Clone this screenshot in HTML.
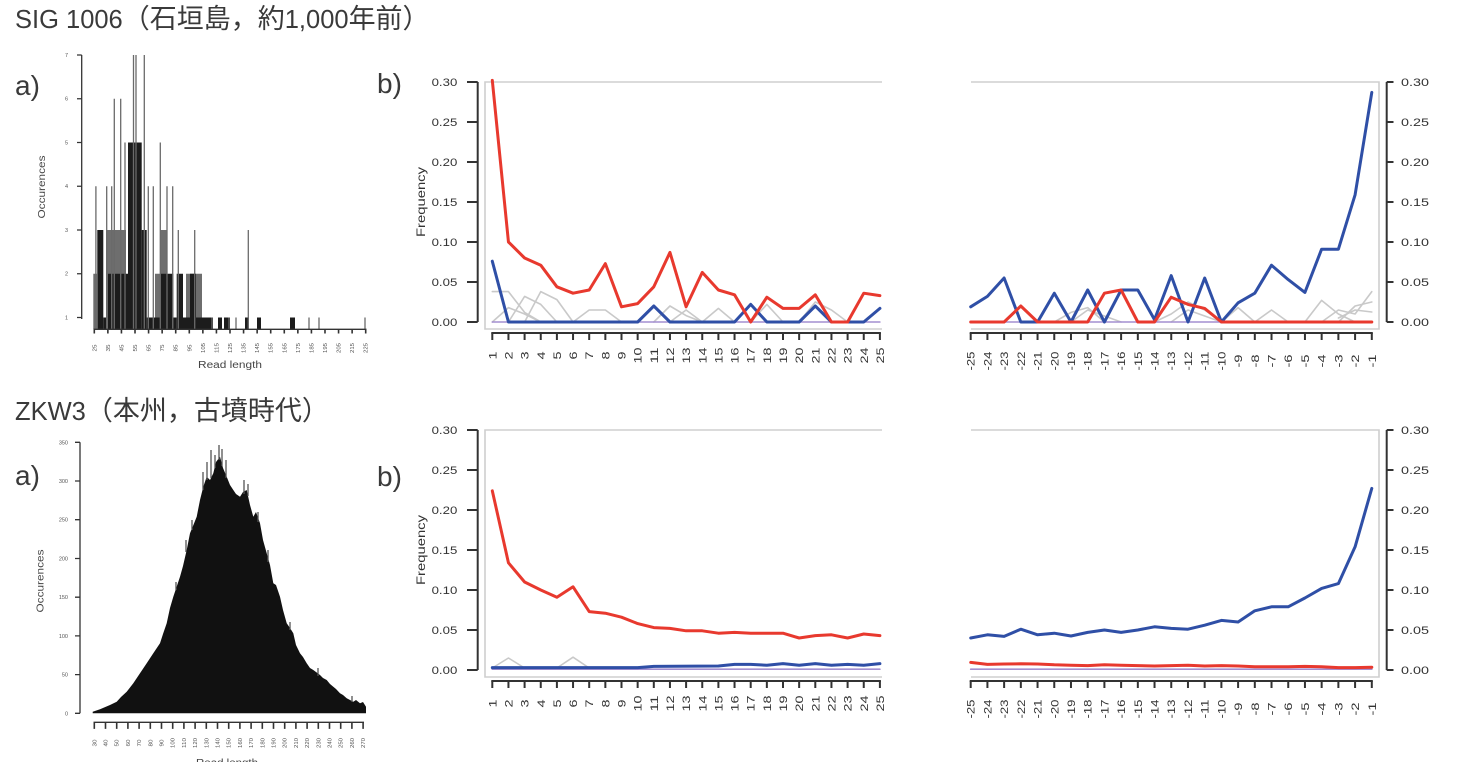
<!DOCTYPE html>
<html><head><meta charset="utf-8"><style>html,body{margin:0;padding:0;background:#fff;}svg{display:block;}</style></head>
<body>
<svg width="1458" height="762" viewBox="0 0 1458 762" xmlns="http://www.w3.org/2000/svg" font-family="'Liberation Sans','Noto Sans CJK JP',sans-serif">
<rect width="1458" height="762" fill="#fff"/>

<!-- Titles -->
<text x="15" y="28" font-size="25.5" fill="#3a3a3a">SIG 1006<tspan font-size="27">（石垣島，約</tspan>1,000<tspan font-size="27">年前）</tspan></text>
<text x="15" y="420" font-size="25.5" fill="#3a3a3a">ZKW3<tspan font-size="27">（本州，古墳時代）</tspan></text>
<text x="15" y="95" font-size="28" fill="#3a3a3a">a)</text>
<text x="15" y="485" font-size="28" fill="#3a3a3a">a)</text>
<text x="377" y="93" font-size="28" fill="#3a3a3a">b)</text>
<text x="377" y="486" font-size="28" fill="#3a3a3a">b)</text>

<!-- ============ TOP HISTOGRAM ============ -->
<g fill="#6e6e6e">
<rect x="93.3" y="273.75" width="3.7" height="55.5"/>
<rect x="106" y="230" width="20" height="99.3"/>
<rect x="155" y="273.75" width="5" height="55.5"/>
<rect x="160" y="230" width="7" height="99.3"/>
<rect x="186" y="273.75" width="16" height="55.5"/>
</g>
<g fill="#1c1c1c">
<rect x="97.3" y="230" width="6" height="99.3"/>
<rect x="103.3" y="317.5" width="3.4" height="11.8"/>
<rect x="108" y="273.75" width="20" height="55.5"/>
<rect x="128" y="142.5" width="13.7" height="186.8"/>
<rect x="141.7" y="230" width="5" height="99.3"/>
<rect x="146.7" y="317.5" width="8.3" height="11.8"/>
<rect x="155" y="317.5" width="5" height="11.8"/>
<rect x="160" y="273.75" width="7" height="55.5"/>
<rect x="166.7" y="273.75" width="6.6" height="55.5"/>
<rect x="173.3" y="317.5" width="3.4" height="11.8"/>
<rect x="176.7" y="273.75" width="6.3" height="55.5"/>
<rect x="183" y="317.5" width="20" height="11.8"/>
<rect x="190" y="273.75" width="6" height="55.5"/>
<rect x="203" y="317.5" width="10" height="11.8"/>
<rect x="218" y="317.5" width="4" height="11.8"/>
<rect x="224" y="317.5" width="6" height="11.8"/>
<rect x="245" y="317.5" width="4" height="11.8"/>
<rect x="257" y="317.5" width="4" height="11.8"/>
<rect x="290" y="317.5" width="5" height="11.8"/>
</g>
<g stroke="#6a6a6a" stroke-width="1.3">
<line x1="95.9" y1="329" x2="95.9" y2="186.25"/>
<line x1="106.7" y1="329" x2="106.7" y2="186.25"/>
<line x1="111.7" y1="329" x2="111.7" y2="186.25"/>
<line x1="114.3" y1="329" x2="114.3" y2="98.75"/>
<line x1="120.7" y1="329" x2="120.7" y2="98.75"/>
<line x1="125" y1="329" x2="125" y2="142.5"/>
<line x1="133.5" y1="329" x2="133.5" y2="55"/>
<line x1="136" y1="329" x2="136" y2="55"/>
<line x1="144.3" y1="329" x2="144.3" y2="55"/>
<line x1="148.3" y1="329" x2="148.3" y2="186.25"/>
<line x1="153.3" y1="329" x2="153.3" y2="186.25"/>
<line x1="160.3" y1="329" x2="160.3" y2="142.5"/>
<line x1="167" y1="329" x2="167" y2="186.25"/>
<line x1="172.7" y1="329" x2="172.7" y2="186.25"/>
<line x1="178.3" y1="329" x2="178.3" y2="230"/>
<line x1="194.7" y1="329" x2="194.7" y2="230"/>
<line x1="212" y1="329" x2="212" y2="317.5"/>
<line x1="229" y1="329" x2="229" y2="317.5"/>
<line x1="236" y1="329" x2="236" y2="317.5"/>
<line x1="248.3" y1="329" x2="248.3" y2="230"/>
<line x1="309" y1="329" x2="309" y2="317.5"/>
<line x1="319" y1="329" x2="319" y2="317.5"/>
<line x1="365" y1="329" x2="365" y2="317.5"/>
</g>
<!-- top hist axes -->
<g stroke="#333" stroke-width="1.3" fill="none">
<line x1="81.7" y1="55" x2="81.7" y2="319"/>
<path d="M77 55H81.7M77 98.75H81.7M77 142.5H81.7M77 186.25H81.7M77 230H81.7M77 273.75H81.7M77 317.5H81.7"/>
<line x1="93.5" y1="329.3" x2="366.5" y2="329.3"/>
</g>
<line x1="93.5" y1="331.4" x2="366.5" y2="331.4" stroke="#333" stroke-width="4.2" stroke-dasharray="1.6 11.97"/>
<g font-size="5.5" fill="#555" text-anchor="end">
<text x="68" y="57">7</text><text x="68" y="100.7">6</text><text x="68" y="144.5">5</text><text x="68" y="188.2">4</text><text x="68" y="232">3</text><text x="68" y="275.7">2</text><text x="68" y="319.5">1</text>
</g>
<g font-size="5.5" fill="#555" text-anchor="middle">
<text transform="translate(94.3,348) rotate(-90)" dy="2" textLength="7" lengthAdjust="spacingAndGlyphs">25</text>
<text transform="translate(107.9,348) rotate(-90)" dy="2" textLength="7" lengthAdjust="spacingAndGlyphs">35</text>
<text transform="translate(121.4,348) rotate(-90)" dy="2" textLength="7" lengthAdjust="spacingAndGlyphs">45</text>
<text transform="translate(135,348) rotate(-90)" dy="2" textLength="7" lengthAdjust="spacingAndGlyphs">55</text>
<text transform="translate(148.6,348) rotate(-90)" dy="2" textLength="7" lengthAdjust="spacingAndGlyphs">65</text>
<text transform="translate(162.2,348) rotate(-90)" dy="2" textLength="7" lengthAdjust="spacingAndGlyphs">75</text>
<text transform="translate(175.7,348) rotate(-90)" dy="2" textLength="7" lengthAdjust="spacingAndGlyphs">85</text>
<text transform="translate(189.3,348) rotate(-90)" dy="2" textLength="7" lengthAdjust="spacingAndGlyphs">95</text>
<text transform="translate(202.9,348) rotate(-90)" dy="2" textLength="10" lengthAdjust="spacingAndGlyphs">105</text>
<text transform="translate(216.4,348) rotate(-90)" dy="2" textLength="10" lengthAdjust="spacingAndGlyphs">115</text>
<text transform="translate(230,348) rotate(-90)" dy="2" textLength="10" lengthAdjust="spacingAndGlyphs">125</text>
<text transform="translate(243.6,348) rotate(-90)" dy="2" textLength="10" lengthAdjust="spacingAndGlyphs">135</text>
<text transform="translate(257.1,348) rotate(-90)" dy="2" textLength="10" lengthAdjust="spacingAndGlyphs">145</text>
<text transform="translate(270.7,348) rotate(-90)" dy="2" textLength="10" lengthAdjust="spacingAndGlyphs">155</text>
<text transform="translate(284.3,348) rotate(-90)" dy="2" textLength="10" lengthAdjust="spacingAndGlyphs">165</text>
<text transform="translate(297.9,348) rotate(-90)" dy="2" textLength="10" lengthAdjust="spacingAndGlyphs">175</text>
<text transform="translate(311.4,348) rotate(-90)" dy="2" textLength="10" lengthAdjust="spacingAndGlyphs">185</text>
<text transform="translate(325,348) rotate(-90)" dy="2" textLength="10" lengthAdjust="spacingAndGlyphs">195</text>
<text transform="translate(338.6,348) rotate(-90)" dy="2" textLength="10" lengthAdjust="spacingAndGlyphs">205</text>
<text transform="translate(352.1,348) rotate(-90)" dy="2" textLength="10" lengthAdjust="spacingAndGlyphs">215</text>
<text transform="translate(365.7,348) rotate(-90)" dy="2" textLength="10" lengthAdjust="spacingAndGlyphs">225</text>
</g>
<text transform="translate(41.7,187) rotate(-90)" dy="3.5" font-size="10" fill="#444" text-anchor="middle" textLength="63" lengthAdjust="spacingAndGlyphs">Occurences</text>
<text x="230" y="368" font-size="10" fill="#444" text-anchor="middle" textLength="64" lengthAdjust="spacingAndGlyphs">Read length</text>

<!-- ============ BOTTOM HISTOGRAM ============ -->
<polygon fill="#111" points="92.7,713.3 92.7,711.7 100,709.3 110,705 116.7,701.7 121,697 126.7,691.7 133.3,683.3 140,673.3 146.7,663.3 153.3,653.3 160,643.3 163,634 166.7,623.3 170,608 173.3,596.7 180,576.7 183,566 186.7,550 190,533.3 193,526 196.7,516.7 200,500 203.3,486.7 206.7,476.7 210,480 213.3,473.3 216,462 220,456.7 223,468 226.7,476.7 230,485 233.3,490 236,494 240,496.7 243,492 246.7,490 250,505 253.3,516.7 256,512 260,523.3 263,540 266.7,553.3 270,565 273.3,583.3 276,585 280,596.7 283,610 286.7,623.3 290,628 293.3,633.3 296,645 300,653.3 303,657 306.7,663.3 310,668 313.3,670 316,672 320,675 323,678 326.7,680 330,684 333.3,686.7 336,689 340,693.3 343,695 346.7,698.3 350,700 353.3,701.7 356,700 360,703.3 363,702 366,706.7 366,713.3"/>
<g stroke="#555" stroke-width="1.3">
<line x1="203" y1="490" x2="203" y2="472"/>
<line x1="207" y1="480" x2="207" y2="462"/>
<line x1="211" y1="478" x2="211" y2="450"/>
<line x1="215" y1="468" x2="215" y2="455"/>
<line x1="219" y1="460" x2="219" y2="445"/>
<line x1="222" y1="466" x2="222" y2="449"/>
<line x1="226" y1="478" x2="226" y2="460"/>
<line x1="244" y1="494" x2="244" y2="480"/>
<line x1="248" y1="496" x2="248" y2="484"/>
<line x1="186" y1="552" x2="186" y2="540"/>
<line x1="192" y1="530" x2="192" y2="520"/>
<line x1="258" y1="522" x2="258" y2="512"/>
<line x1="268" y1="562" x2="268" y2="550"/>
<line x1="176" y1="590" x2="176" y2="582"/>
<line x1="290" y1="630" x2="290" y2="622"/>
<line x1="318" y1="676" x2="318" y2="668"/>
<line x1="352" y1="702" x2="352" y2="696"/>
</g>
<g stroke="#333" stroke-width="1.3" fill="none">
<line x1="80" y1="442.3" x2="80" y2="713.3"/>
<path d="M75 713.3H80M75 674.6H80M75 635.9H80M75 597.2H80M75 558.5H80M75 519.7H80M75 481H80M75 442.3H80"/>
<line x1="93.5" y1="722.3" x2="364" y2="722.3"/>
</g>
<line x1="93.5" y1="725.6" x2="364" y2="725.6" stroke="#333" stroke-width="6.6" stroke-dasharray="1.6 9.6"/>
<g font-size="5.5" fill="#555" text-anchor="end">
<text x="68" y="715.3">0</text><text x="68" y="676.6">50</text><text x="68" y="637.9">100</text><text x="68" y="599.2">150</text><text x="68" y="560.5">200</text><text x="68" y="521.7">250</text><text x="68" y="483">300</text><text x="68" y="444.3">350</text>
</g>
<g font-size="5.5" fill="#555" text-anchor="middle">
<text transform="translate(94.3,743) rotate(-90)" dy="2" textLength="7" lengthAdjust="spacingAndGlyphs">30</text>
<text transform="translate(105.5,743) rotate(-90)" dy="2" textLength="7" lengthAdjust="spacingAndGlyphs">40</text>
<text transform="translate(116.7,743) rotate(-90)" dy="2" textLength="7" lengthAdjust="spacingAndGlyphs">50</text>
<text transform="translate(127.9,743) rotate(-90)" dy="2" textLength="7" lengthAdjust="spacingAndGlyphs">60</text>
<text transform="translate(139.1,743) rotate(-90)" dy="2" textLength="7" lengthAdjust="spacingAndGlyphs">70</text>
<text transform="translate(150.3,743) rotate(-90)" dy="2" textLength="7" lengthAdjust="spacingAndGlyphs">80</text>
<text transform="translate(161.5,743) rotate(-90)" dy="2" textLength="7" lengthAdjust="spacingAndGlyphs">90</text>
<text transform="translate(172.7,743) rotate(-90)" dy="2" textLength="10" lengthAdjust="spacingAndGlyphs">100</text>
<text transform="translate(183.9,743) rotate(-90)" dy="2" textLength="10" lengthAdjust="spacingAndGlyphs">110</text>
<text transform="translate(195.1,743) rotate(-90)" dy="2" textLength="10" lengthAdjust="spacingAndGlyphs">120</text>
<text transform="translate(206.3,743) rotate(-90)" dy="2" textLength="10" lengthAdjust="spacingAndGlyphs">130</text>
<text transform="translate(217.5,743) rotate(-90)" dy="2" textLength="10" lengthAdjust="spacingAndGlyphs">140</text>
<text transform="translate(228.7,743) rotate(-90)" dy="2" textLength="10" lengthAdjust="spacingAndGlyphs">150</text>
<text transform="translate(239.9,743) rotate(-90)" dy="2" textLength="10" lengthAdjust="spacingAndGlyphs">160</text>
<text transform="translate(251.1,743) rotate(-90)" dy="2" textLength="10" lengthAdjust="spacingAndGlyphs">170</text>
<text transform="translate(262.3,743) rotate(-90)" dy="2" textLength="10" lengthAdjust="spacingAndGlyphs">180</text>
<text transform="translate(273.5,743) rotate(-90)" dy="2" textLength="10" lengthAdjust="spacingAndGlyphs">190</text>
<text transform="translate(284.7,743) rotate(-90)" dy="2" textLength="10" lengthAdjust="spacingAndGlyphs">200</text>
<text transform="translate(295.9,743) rotate(-90)" dy="2" textLength="10" lengthAdjust="spacingAndGlyphs">210</text>
<text transform="translate(307.1,743) rotate(-90)" dy="2" textLength="10" lengthAdjust="spacingAndGlyphs">220</text>
<text transform="translate(318.3,743) rotate(-90)" dy="2" textLength="10" lengthAdjust="spacingAndGlyphs">230</text>
<text transform="translate(329.5,743) rotate(-90)" dy="2" textLength="10" lengthAdjust="spacingAndGlyphs">240</text>
<text transform="translate(340.7,743) rotate(-90)" dy="2" textLength="10" lengthAdjust="spacingAndGlyphs">250</text>
<text transform="translate(351.9,743) rotate(-90)" dy="2" textLength="10" lengthAdjust="spacingAndGlyphs">260</text>
<text transform="translate(363.1,743) rotate(-90)" dy="2" textLength="10" lengthAdjust="spacingAndGlyphs">270</text>
</g>
<text transform="translate(40,581) rotate(-90)" dy="3.5" font-size="10" fill="#444" text-anchor="middle" textLength="63" lengthAdjust="spacingAndGlyphs">Occurences</text>
<text x="227" y="766" font-size="10" fill="#444" text-anchor="middle" textLength="62" lengthAdjust="spacingAndGlyphs">Read length</text>

<!-- ============ LINE CHART FRAMES ============ -->
<g stroke="#cfcfcf" stroke-width="1.6" fill="none">
<path d="M882 82H485V329H882"/>
<path d="M971 82H1379V329H971"/>
<path d="M882 430H485V677H882"/>
<path d="M971 430H1379V677H971"/>
</g>

<!-- axes -->
<g stroke="#333" stroke-width="2" fill="none">
<line x1="477.7" y1="82" x2="477.7" y2="322"/>
<path d="M467 82H477.7M467 122H477.7M467 162H477.7M467 202H477.7M467 242H477.7M467 282H477.7M467 322H477.7"/>
<line x1="1386.7" y1="82" x2="1386.7" y2="322"/>
<path d="M1386.7 82H1393.5M1386.7 122H1393.5M1386.7 162H1393.5M1386.7 202H1393.5M1386.7 242H1393.5M1386.7 282H1393.5M1386.7 322H1393.5"/>
<line x1="477.7" y1="430" x2="477.7" y2="670"/>
<path d="M467 430H477.7M467 470H477.7M467 510H477.7M467 550H477.7M467 590H477.7M467 630H477.7M467 670H477.7"/>
<line x1="1386.7" y1="430" x2="1386.7" y2="670"/>
<path d="M1386.7 430H1393.5M1386.7 470H1393.5M1386.7 510H1393.5M1386.7 550H1393.5M1386.7 590H1393.5M1386.7 630H1393.5M1386.7 670H1393.5"/>
<line x1="491.3" y1="333" x2="880.9" y2="333"/>
<line x1="969.7" y1="333" x2="1372.8" y2="333"/>
<line x1="491.3" y1="681" x2="880.9" y2="681"/>
<line x1="969.7" y1="681" x2="1372.8" y2="681"/>
</g>
<g stroke="#333" stroke-width="7">
<line x1="491.3" y1="336.5" x2="880.9" y2="336.5" stroke-dasharray="2 14.15"/>
<line x1="969.7" y1="336.5" x2="1372.9" y2="336.5" stroke-dasharray="2 14.7125"/>
<line x1="491.3" y1="684.5" x2="880.9" y2="684.5" stroke-dasharray="2 14.15"/>
<line x1="969.7" y1="684.5" x2="1372.9" y2="684.5" stroke-dasharray="2 14.7125"/>
</g>

<!-- y labels -->
<g font-size="11" fill="#333" text-anchor="end">
<text x="457.3" y="86" textLength="25.7" lengthAdjust="spacingAndGlyphs">0.30</text>
<text x="457.3" y="126" textLength="25.7" lengthAdjust="spacingAndGlyphs">0.25</text>
<text x="457.3" y="166" textLength="25.7" lengthAdjust="spacingAndGlyphs">0.20</text>
<text x="457.3" y="206" textLength="25.7" lengthAdjust="spacingAndGlyphs">0.15</text>
<text x="457.3" y="246" textLength="25.7" lengthAdjust="spacingAndGlyphs">0.10</text>
<text x="457.3" y="286" textLength="25.7" lengthAdjust="spacingAndGlyphs">0.05</text>
<text x="457.3" y="326" textLength="25.7" lengthAdjust="spacingAndGlyphs">0.00</text>
<text x="457.3" y="434" textLength="25.7" lengthAdjust="spacingAndGlyphs">0.30</text>
<text x="457.3" y="474" textLength="25.7" lengthAdjust="spacingAndGlyphs">0.25</text>
<text x="457.3" y="514" textLength="25.7" lengthAdjust="spacingAndGlyphs">0.20</text>
<text x="457.3" y="554" textLength="25.7" lengthAdjust="spacingAndGlyphs">0.15</text>
<text x="457.3" y="594" textLength="25.7" lengthAdjust="spacingAndGlyphs">0.10</text>
<text x="457.3" y="634" textLength="25.7" lengthAdjust="spacingAndGlyphs">0.05</text>
<text x="457.3" y="674" textLength="25.7" lengthAdjust="spacingAndGlyphs">0.00</text>
</g>
<g font-size="11" fill="#333" text-anchor="start">
<text x="1401" y="86" textLength="28" lengthAdjust="spacingAndGlyphs">0.30</text>
<text x="1401" y="126" textLength="28" lengthAdjust="spacingAndGlyphs">0.25</text>
<text x="1401" y="166" textLength="28" lengthAdjust="spacingAndGlyphs">0.20</text>
<text x="1401" y="206" textLength="28" lengthAdjust="spacingAndGlyphs">0.15</text>
<text x="1401" y="246" textLength="28" lengthAdjust="spacingAndGlyphs">0.10</text>
<text x="1401" y="286" textLength="28" lengthAdjust="spacingAndGlyphs">0.05</text>
<text x="1401" y="326" textLength="28" lengthAdjust="spacingAndGlyphs">0.00</text>
<text x="1401" y="434" textLength="28" lengthAdjust="spacingAndGlyphs">0.30</text>
<text x="1401" y="474" textLength="28" lengthAdjust="spacingAndGlyphs">0.25</text>
<text x="1401" y="514" textLength="28" lengthAdjust="spacingAndGlyphs">0.20</text>
<text x="1401" y="554" textLength="28" lengthAdjust="spacingAndGlyphs">0.15</text>
<text x="1401" y="594" textLength="28" lengthAdjust="spacingAndGlyphs">0.10</text>
<text x="1401" y="634" textLength="28" lengthAdjust="spacingAndGlyphs">0.05</text>
<text x="1401" y="674" textLength="28" lengthAdjust="spacingAndGlyphs">0.00</text>
</g>
<text transform="translate(421,202) rotate(-90)" dy="4" font-size="12" fill="#333" text-anchor="middle" textLength="70" lengthAdjust="spacingAndGlyphs">Frequency</text>
<text transform="translate(421,550) rotate(-90)" dy="4" font-size="12" fill="#333" text-anchor="middle" textLength="70" lengthAdjust="spacingAndGlyphs">Frequency</text>

<!-- x labels left panels -->
<g font-size="11" fill="#333" text-anchor="middle">
<text transform="translate(492.3,355.5) rotate(-90)" dy="4" textLength="8" lengthAdjust="spacingAndGlyphs">1</text>
<text transform="translate(508.45,355.5) rotate(-90)" dy="4" textLength="8" lengthAdjust="spacingAndGlyphs">2</text>
<text transform="translate(524.6,355.5) rotate(-90)" dy="4" textLength="8" lengthAdjust="spacingAndGlyphs">3</text>
<text transform="translate(540.75,355.5) rotate(-90)" dy="4" textLength="8" lengthAdjust="spacingAndGlyphs">4</text>
<text transform="translate(556.9,355.5) rotate(-90)" dy="4" textLength="8" lengthAdjust="spacingAndGlyphs">5</text>
<text transform="translate(573.05,355.5) rotate(-90)" dy="4" textLength="8" lengthAdjust="spacingAndGlyphs">6</text>
<text transform="translate(589.2,355.5) rotate(-90)" dy="4" textLength="8" lengthAdjust="spacingAndGlyphs">7</text>
<text transform="translate(605.35,355.5) rotate(-90)" dy="4" textLength="8" lengthAdjust="spacingAndGlyphs">8</text>
<text transform="translate(621.5,355.5) rotate(-90)" dy="4" textLength="8" lengthAdjust="spacingAndGlyphs">9</text>
<text transform="translate(637.65,355.5) rotate(-90)" dy="4" textLength="16" lengthAdjust="spacingAndGlyphs">10</text>
<text transform="translate(653.8,355.5) rotate(-90)" dy="4" textLength="16" lengthAdjust="spacingAndGlyphs">11</text>
<text transform="translate(669.95,355.5) rotate(-90)" dy="4" textLength="16" lengthAdjust="spacingAndGlyphs">12</text>
<text transform="translate(686.1,355.5) rotate(-90)" dy="4" textLength="16" lengthAdjust="spacingAndGlyphs">13</text>
<text transform="translate(702.25,355.5) rotate(-90)" dy="4" textLength="16" lengthAdjust="spacingAndGlyphs">14</text>
<text transform="translate(718.4,355.5) rotate(-90)" dy="4" textLength="16" lengthAdjust="spacingAndGlyphs">15</text>
<text transform="translate(734.55,355.5) rotate(-90)" dy="4" textLength="16" lengthAdjust="spacingAndGlyphs">16</text>
<text transform="translate(750.7,355.5) rotate(-90)" dy="4" textLength="16" lengthAdjust="spacingAndGlyphs">17</text>
<text transform="translate(766.85,355.5) rotate(-90)" dy="4" textLength="16" lengthAdjust="spacingAndGlyphs">18</text>
<text transform="translate(783,355.5) rotate(-90)" dy="4" textLength="16" lengthAdjust="spacingAndGlyphs">19</text>
<text transform="translate(799.15,355.5) rotate(-90)" dy="4" textLength="16" lengthAdjust="spacingAndGlyphs">20</text>
<text transform="translate(815.3,355.5) rotate(-90)" dy="4" textLength="16" lengthAdjust="spacingAndGlyphs">21</text>
<text transform="translate(831.45,355.5) rotate(-90)" dy="4" textLength="16" lengthAdjust="spacingAndGlyphs">22</text>
<text transform="translate(847.6,355.5) rotate(-90)" dy="4" textLength="16" lengthAdjust="spacingAndGlyphs">23</text>
<text transform="translate(863.75,355.5) rotate(-90)" dy="4" textLength="16" lengthAdjust="spacingAndGlyphs">24</text>
<text transform="translate(879.9,355.5) rotate(-90)" dy="4" textLength="16" lengthAdjust="spacingAndGlyphs">25</text>
</g>
<g font-size="11" fill="#333" text-anchor="middle">
<text transform="translate(492.3,703.5) rotate(-90)" dy="4" textLength="8" lengthAdjust="spacingAndGlyphs">1</text>
<text transform="translate(508.45,703.5) rotate(-90)" dy="4" textLength="8" lengthAdjust="spacingAndGlyphs">2</text>
<text transform="translate(524.6,703.5) rotate(-90)" dy="4" textLength="8" lengthAdjust="spacingAndGlyphs">3</text>
<text transform="translate(540.75,703.5) rotate(-90)" dy="4" textLength="8" lengthAdjust="spacingAndGlyphs">4</text>
<text transform="translate(556.9,703.5) rotate(-90)" dy="4" textLength="8" lengthAdjust="spacingAndGlyphs">5</text>
<text transform="translate(573.05,703.5) rotate(-90)" dy="4" textLength="8" lengthAdjust="spacingAndGlyphs">6</text>
<text transform="translate(589.2,703.5) rotate(-90)" dy="4" textLength="8" lengthAdjust="spacingAndGlyphs">7</text>
<text transform="translate(605.35,703.5) rotate(-90)" dy="4" textLength="8" lengthAdjust="spacingAndGlyphs">8</text>
<text transform="translate(621.5,703.5) rotate(-90)" dy="4" textLength="8" lengthAdjust="spacingAndGlyphs">9</text>
<text transform="translate(637.65,703.5) rotate(-90)" dy="4" textLength="16" lengthAdjust="spacingAndGlyphs">10</text>
<text transform="translate(653.8,703.5) rotate(-90)" dy="4" textLength="16" lengthAdjust="spacingAndGlyphs">11</text>
<text transform="translate(669.95,703.5) rotate(-90)" dy="4" textLength="16" lengthAdjust="spacingAndGlyphs">12</text>
<text transform="translate(686.1,703.5) rotate(-90)" dy="4" textLength="16" lengthAdjust="spacingAndGlyphs">13</text>
<text transform="translate(702.25,703.5) rotate(-90)" dy="4" textLength="16" lengthAdjust="spacingAndGlyphs">14</text>
<text transform="translate(718.4,703.5) rotate(-90)" dy="4" textLength="16" lengthAdjust="spacingAndGlyphs">15</text>
<text transform="translate(734.55,703.5) rotate(-90)" dy="4" textLength="16" lengthAdjust="spacingAndGlyphs">16</text>
<text transform="translate(750.7,703.5) rotate(-90)" dy="4" textLength="16" lengthAdjust="spacingAndGlyphs">17</text>
<text transform="translate(766.85,703.5) rotate(-90)" dy="4" textLength="16" lengthAdjust="spacingAndGlyphs">18</text>
<text transform="translate(783,703.5) rotate(-90)" dy="4" textLength="16" lengthAdjust="spacingAndGlyphs">19</text>
<text transform="translate(799.15,703.5) rotate(-90)" dy="4" textLength="16" lengthAdjust="spacingAndGlyphs">20</text>
<text transform="translate(815.3,703.5) rotate(-90)" dy="4" textLength="16" lengthAdjust="spacingAndGlyphs">21</text>
<text transform="translate(831.45,703.5) rotate(-90)" dy="4" textLength="16" lengthAdjust="spacingAndGlyphs">22</text>
<text transform="translate(847.6,703.5) rotate(-90)" dy="4" textLength="16" lengthAdjust="spacingAndGlyphs">23</text>
<text transform="translate(863.75,703.5) rotate(-90)" dy="4" textLength="16" lengthAdjust="spacingAndGlyphs">24</text>
<text transform="translate(879.9,703.5) rotate(-90)" dy="4" textLength="16" lengthAdjust="spacingAndGlyphs">25</text>
</g>

<!-- x labels right panels -->
<g font-size="11" fill="#333" text-anchor="middle">
<text transform="translate(970.7,361) rotate(-90)" dy="4" textLength="19" lengthAdjust="spacingAndGlyphs">-25</text>
<text transform="translate(987.4,361) rotate(-90)" dy="4" textLength="19" lengthAdjust="spacingAndGlyphs">-24</text>
<text transform="translate(1004.1,361) rotate(-90)" dy="4" textLength="19" lengthAdjust="spacingAndGlyphs">-23</text>
<text transform="translate(1020.8,361) rotate(-90)" dy="4" textLength="19" lengthAdjust="spacingAndGlyphs">-22</text>
<text transform="translate(1037.6,361) rotate(-90)" dy="4" textLength="19" lengthAdjust="spacingAndGlyphs">-21</text>
<text transform="translate(1054.3,361) rotate(-90)" dy="4" textLength="19" lengthAdjust="spacingAndGlyphs">-20</text>
<text transform="translate(1071,361) rotate(-90)" dy="4" textLength="19" lengthAdjust="spacingAndGlyphs">-19</text>
<text transform="translate(1087.7,361) rotate(-90)" dy="4" textLength="19" lengthAdjust="spacingAndGlyphs">-18</text>
<text transform="translate(1104.4,361) rotate(-90)" dy="4" textLength="19" lengthAdjust="spacingAndGlyphs">-17</text>
<text transform="translate(1121.1,361) rotate(-90)" dy="4" textLength="19" lengthAdjust="spacingAndGlyphs">-16</text>
<text transform="translate(1137.8,361) rotate(-90)" dy="4" textLength="19" lengthAdjust="spacingAndGlyphs">-15</text>
<text transform="translate(1154.5,361) rotate(-90)" dy="4" textLength="19" lengthAdjust="spacingAndGlyphs">-14</text>
<text transform="translate(1171.2,361) rotate(-90)" dy="4" textLength="19" lengthAdjust="spacingAndGlyphs">-13</text>
<text transform="translate(1188,361) rotate(-90)" dy="4" textLength="19" lengthAdjust="spacingAndGlyphs">-12</text>
<text transform="translate(1204.7,361) rotate(-90)" dy="4" textLength="19" lengthAdjust="spacingAndGlyphs">-11</text>
<text transform="translate(1221.4,361) rotate(-90)" dy="4" textLength="19" lengthAdjust="spacingAndGlyphs">-10</text>
<text transform="translate(1238.1,361) rotate(-90)" dy="4" textLength="13" lengthAdjust="spacingAndGlyphs">-9</text>
<text transform="translate(1254.8,361) rotate(-90)" dy="4" textLength="13" lengthAdjust="spacingAndGlyphs">-8</text>
<text transform="translate(1271.5,361) rotate(-90)" dy="4" textLength="13" lengthAdjust="spacingAndGlyphs">-7</text>
<text transform="translate(1288.2,361) rotate(-90)" dy="4" textLength="13" lengthAdjust="spacingAndGlyphs">-6</text>
<text transform="translate(1304.9,361) rotate(-90)" dy="4" textLength="13" lengthAdjust="spacingAndGlyphs">-5</text>
<text transform="translate(1321.6,361) rotate(-90)" dy="4" textLength="13" lengthAdjust="spacingAndGlyphs">-4</text>
<text transform="translate(1338.4,361) rotate(-90)" dy="4" textLength="13" lengthAdjust="spacingAndGlyphs">-3</text>
<text transform="translate(1355.1,361) rotate(-90)" dy="4" textLength="13" lengthAdjust="spacingAndGlyphs">-2</text>
<text transform="translate(1371.8,361) rotate(-90)" dy="4" textLength="13" lengthAdjust="spacingAndGlyphs">-1</text>
</g>
<g font-size="11" fill="#333" text-anchor="middle">
<text transform="translate(970.7,709) rotate(-90)" dy="4" textLength="19" lengthAdjust="spacingAndGlyphs">-25</text>
<text transform="translate(987.4,709) rotate(-90)" dy="4" textLength="19" lengthAdjust="spacingAndGlyphs">-24</text>
<text transform="translate(1004.1,709) rotate(-90)" dy="4" textLength="19" lengthAdjust="spacingAndGlyphs">-23</text>
<text transform="translate(1020.8,709) rotate(-90)" dy="4" textLength="19" lengthAdjust="spacingAndGlyphs">-22</text>
<text transform="translate(1037.6,709) rotate(-90)" dy="4" textLength="19" lengthAdjust="spacingAndGlyphs">-21</text>
<text transform="translate(1054.3,709) rotate(-90)" dy="4" textLength="19" lengthAdjust="spacingAndGlyphs">-20</text>
<text transform="translate(1071,709) rotate(-90)" dy="4" textLength="19" lengthAdjust="spacingAndGlyphs">-19</text>
<text transform="translate(1087.7,709) rotate(-90)" dy="4" textLength="19" lengthAdjust="spacingAndGlyphs">-18</text>
<text transform="translate(1104.4,709) rotate(-90)" dy="4" textLength="19" lengthAdjust="spacingAndGlyphs">-17</text>
<text transform="translate(1121.1,709) rotate(-90)" dy="4" textLength="19" lengthAdjust="spacingAndGlyphs">-16</text>
<text transform="translate(1137.8,709) rotate(-90)" dy="4" textLength="19" lengthAdjust="spacingAndGlyphs">-15</text>
<text transform="translate(1154.5,709) rotate(-90)" dy="4" textLength="19" lengthAdjust="spacingAndGlyphs">-14</text>
<text transform="translate(1171.2,709) rotate(-90)" dy="4" textLength="19" lengthAdjust="spacingAndGlyphs">-13</text>
<text transform="translate(1188,709) rotate(-90)" dy="4" textLength="19" lengthAdjust="spacingAndGlyphs">-12</text>
<text transform="translate(1204.7,709) rotate(-90)" dy="4" textLength="19" lengthAdjust="spacingAndGlyphs">-11</text>
<text transform="translate(1221.4,709) rotate(-90)" dy="4" textLength="19" lengthAdjust="spacingAndGlyphs">-10</text>
<text transform="translate(1238.1,709) rotate(-90)" dy="4" textLength="13" lengthAdjust="spacingAndGlyphs">-9</text>
<text transform="translate(1254.8,709) rotate(-90)" dy="4" textLength="13" lengthAdjust="spacingAndGlyphs">-8</text>
<text transform="translate(1271.5,709) rotate(-90)" dy="4" textLength="13" lengthAdjust="spacingAndGlyphs">-7</text>
<text transform="translate(1288.2,709) rotate(-90)" dy="4" textLength="13" lengthAdjust="spacingAndGlyphs">-6</text>
<text transform="translate(1304.9,709) rotate(-90)" dy="4" textLength="13" lengthAdjust="spacingAndGlyphs">-5</text>
<text transform="translate(1321.6,709) rotate(-90)" dy="4" textLength="13" lengthAdjust="spacingAndGlyphs">-4</text>
<text transform="translate(1338.4,709) rotate(-90)" dy="4" textLength="13" lengthAdjust="spacingAndGlyphs">-3</text>
<text transform="translate(1355.1,709) rotate(-90)" dy="4" textLength="13" lengthAdjust="spacingAndGlyphs">-2</text>
<text transform="translate(1371.8,709) rotate(-90)" dy="4" textLength="13" lengthAdjust="spacingAndGlyphs">-1</text>
</g>

<!-- ============ SERIES ============ -->
<g fill="none" stroke-linejoin="round" stroke-linecap="round">
<g stroke="#c9c9c9" stroke-width="1.6">
<polyline points="492.3,291.6 508.45,291.6 524.6,312.4 540.75,322"/>
<polyline points="492.3,322 508.45,307.6 524.6,314 540.75,322"/>
<polyline points="508.45,322 524.6,296.4 540.75,304.4 556.9,322"/>
<polyline points="524.6,322 540.75,291.6 556.9,299.6 573.05,322 589.2,310 605.35,310 621.5,322"/>
<polyline points="653.8,322 669.95,306 686.1,315.6 702.25,322"/>
<polyline points="669.95,322 686.1,310 702.25,322"/>
<polyline points="702.25,322 718.4,308.4 734.55,322"/>
<polyline points="750.7,322 766.85,304.4 783,322"/>
<polyline points="799.15,322 815.3,302 831.45,310 847.6,322"/>

<polyline points="1054.3,322 1071,312.4 1087.7,307.6 1104.4,322"/>
<polyline points="1071,322 1087.7,310 1104.4,316 1121.1,322"/>
<polyline points="1154.5,322 1171.2,314 1188,302 1204.7,310 1221.4,322"/>
<polyline points="1171.2,322 1188,310 1204.7,316 1221.4,322"/>
<polyline points="1221.4,322 1238.1,307.6 1254.8,322"/>
<polyline points="1254.8,322 1271.5,310 1288.2,322"/>
<polyline points="1304.9,322 1321.6,300.4 1338.4,314 1355.1,322"/>
<polyline points="1321.6,322 1338.4,310 1355.1,314 1371.8,291.6"/>
<polyline points="1338.4,322 1355.1,306 1371.8,302"/>
<polyline points="1338.4,318 1355.1,310 1371.8,312"/>

<polyline points="492.3,668 508.45,658 524.6,668"/>
<polyline points="556.9,668 573.05,657.2 589.2,668"/>
</g>
<g stroke="#a48fd0" stroke-width="1.6">
<line x1="492.3" y1="322" x2="879.9" y2="322"/>
<line x1="970.7" y1="322" x2="1240" y2="322"/>
<line x1="492.3" y1="669.2" x2="879.9" y2="669.2"/>
<line x1="970.7" y1="669.2" x2="1371.8" y2="669.2"/>
</g>
<g stroke="#2f4fa6" stroke-width="3">
<polyline points="492.3,261.2 508.45,322 637.65,322 653.8,306 669.95,322 734.55,322 750.7,304.4 766.85,322 799.15,322 815.3,306 831.45,322 863.75,322 879.9,308.4"/>
<polyline points="970.7,306.8 987.4,296.4 1004.1,278 1020.8,322 1037.6,322 1054.3,293.2 1071,322 1087.7,290 1104.4,322 1121.1,290 1137.8,290 1154.5,319.6 1171.2,275.6 1188,322 1204.7,278 1221.4,322 1238.1,302.8 1254.8,293.2 1271.5,265.2 1288.2,279.6 1304.9,292.4 1321.6,249.2 1338.4,249.2 1355.1,194.8 1371.8,92.4"/>
<polyline points="492.3,667.6 637.65,667.6 653.8,666.4 718.4,666 734.55,664.4 750.7,664.4 766.85,665.2 783,663.6 799.15,665.2 815.3,663.6 831.45,665.2 847.6,664.4 863.75,665.2 879.9,663.6"/>
<polyline points="970.7,638 987.4,634.8 1004.1,636.4 1020.8,629.2 1037.6,634.8 1054.3,633.2 1071,636 1087.7,632.4 1104.4,630 1121.1,632.4 1137.8,630 1154.5,626.8 1171.2,628.4 1188,629.2 1204.7,625.2 1221.4,620.4 1238.1,622 1254.8,610.8 1271.5,606.8 1288.2,606.8 1304.9,598 1321.6,588.4 1338.4,583.6 1355.1,546.8 1371.8,488.4"/>
</g>
<g stroke="#e8392e" stroke-width="3">
<polyline points="492.3,80.4 508.45,242 524.6,258 540.75,265.2 556.9,286.8 573.05,293.2 589.2,290 605.35,263.6 621.5,306.8 637.65,303.6 653.8,286.8 669.95,252.4 686.1,306.8 702.25,272.4 718.4,290 734.55,294.8 750.7,322 766.85,297.2 783,308.4 799.15,308.4 815.3,294.8 831.45,322 847.6,322 863.75,293.2 879.9,295.6"/>
<polyline points="970.7,322 1004.1,322 1020.8,306 1037.6,322 1087.7,322 1104.4,293.2 1121.1,290 1137.8,322 1154.5,322 1171.2,297.2 1188,304.4 1204.7,308.4 1221.4,322 1371.8,322"/>
<polyline points="492.3,490.8 508.45,562.8 524.6,582 540.75,590 556.9,597.2 573.05,586.8 589.2,611.6 605.35,613.2 621.5,617.2 637.65,623.6 653.8,627.6 669.95,628.4 686.1,630.8 702.25,630.8 718.4,633.2 734.55,632.4 750.7,633.2 766.85,633.2 783,633.2 799.15,638 815.3,635.6 831.45,634.8 847.6,638 863.75,634 879.9,635.6"/>
<polyline points="970.7,662.4 987.4,664.4 1004.1,664 1020.8,663.8 1037.6,664 1054.3,664.8 1071,665.2 1087.7,665.6 1104.4,664.8 1121.1,665.2 1137.8,665.6 1154.5,666 1171.2,665.6 1188,665.2 1204.7,666 1221.4,665.6 1238.1,666 1254.8,666.8 1271.5,666.8 1288.2,666.8 1304.9,666.4 1321.6,666.8 1338.4,667.6 1355.1,667.6 1371.8,667.2"/>
</g>
</g>
</svg>
</body></html>
